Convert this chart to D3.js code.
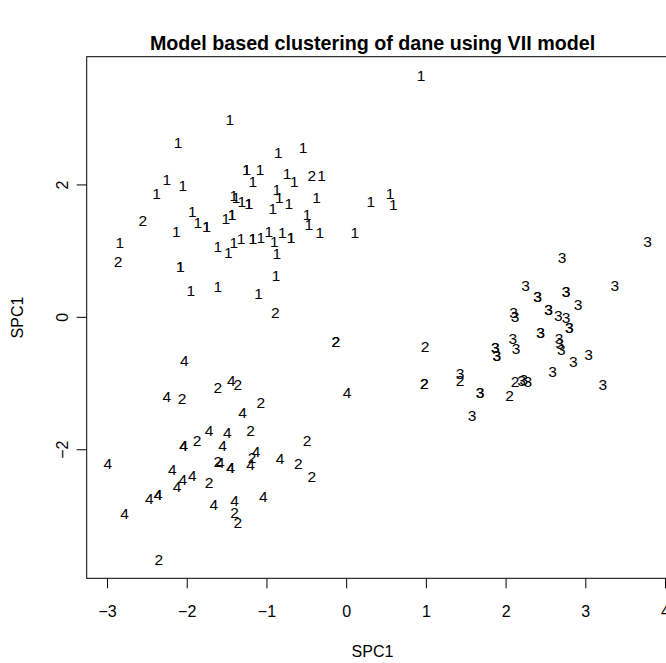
<!DOCTYPE html>
<html>
<head>
<meta charset="utf-8">
<script src="https://cdn.jsdelivr.net/npm/d3@7"></script>
<style>
  body { margin: 0; background: #fff; }
  text { font-family: "Liberation Sans", Arial, sans-serif; }
</style>
</head>
<body>
<div id="chart"></div>
<script>
// cluster 1
const c1x = [-1.46,-2.11,-0.85,-0.54,-1.25,-1.25,-1.08,-1.17,-0.74,-0.65,-0.31,-2.25,-2.38,-2.05,-1.41,-1.38,-1.31,-1.22,-1.22,-0.87,-0.84,-0.72,-0.92,-0.37,0.31,0.55,0.59,-1.93,-1.86,-1.75,-1.75,-1.51,-1.43,-1.43,-2.13,-0.49,-0.47,-0.33,0.11,-1.61,-1.48,-1.41,-1.32,-1.17,-1.17,-1.07,-0.97,-0.90,-0.80,-0.69,-0.69,-0.87,-2.84,-2.08,-2.08,-0.88,-1.95,-1.61,-1.10,0.94];
const c1y = [2.98,2.64,2.49,2.56,2.23,2.23,2.22,2.04,2.16,2.05,2.13,2.07,1.86,1.99,1.84,1.81,1.75,1.71,1.71,1.93,1.80,1.71,1.64,1.81,1.74,1.86,1.70,1.59,1.42,1.37,1.37,1.48,1.55,1.55,1.29,1.54,1.39,1.28,1.28,1.07,0.97,1.13,1.18,1.18,1.18,1.20,1.29,1.14,1.27,1.20,1.20,0.95,1.13,0.76,0.76,0.62,0.40,0.46,0.35,3.64];

// cluster 2
const c2x = [-0.43,-2.55,-2.86,-0.89,-0.13,-0.13,0.99,0.98,0.98,1.43,2.12,2.05,-1.36,-1.61,-2.06,-1.07,-1.20,-0.49,-1.87,-1.61,-1.18,-0.60,-0.43,-1.72,-1.40,-1.36,-2.35];
const c2y = [2.13,1.45,0.84,0.06,-0.38,-0.38,-0.45,-1.01,-1.01,-0.96,-0.98,-1.19,-1.02,-1.07,-1.23,-1.29,-1.71,-1.87,-1.87,-2.18,-2.12,-2.22,-2.41,-2.51,-2.96,-3.11,-3.66];

// cluster 3
const c3x = [3.78,2.71,2.25,2.40,2.40,2.76,2.76,2.91,3.37,2.10,2.12,2.54,2.54,2.66,2.76,2.80,2.80,2.44,2.44,2.09,2.13,1.87,1.87,1.89,1.89,2.67,2.68,2.70,2.85,3.04,2.59,3.22,1.43,1.68,1.68,1.58,2.20,2.23,2.28];
const c3y = [1.14,0.90,0.48,0.30,0.30,0.39,0.39,0.19,0.47,0.06,0.01,0.11,0.11,0.02,-0.01,-0.16,-0.16,-0.24,-0.24,-0.33,-0.48,-0.47,-0.47,-0.58,-0.58,-0.33,-0.40,-0.49,-0.68,-0.57,-0.83,-1.02,-0.86,-1.14,-1.14,-1.49,-0.96,-0.94,-0.97];

// cluster 4
const c4x = [-2.03,-1.44,-2.25,0.01,-1.30,-1.72,-1.49,-2.04,-2.04,-1.55,-2.99,-1.58,-1.45,-1.45,-1.13,-1.20,-0.83,-2.18,-2.05,-1.93,-2.12,-2.47,-2.36,-2.36,-2.78,-1.66,-1.40,-1.04];
const c4y = [-0.66,-0.96,-1.21,-1.14,-1.45,-1.71,-1.74,-1.95,-1.95,-1.94,-2.22,-2.20,-2.27,-2.27,-2.04,-2.23,-2.14,-2.31,-2.46,-2.39,-2.57,-2.74,-2.69,-2.69,-2.97,-2.83,-2.78,-2.71];

const xTicks = [-3, -2, -1, 0, 1, 2, 3, 4];
const yTicks = [-2, 0, 2];
const title = "Model based clustering of dane using VII model";
const xLabel = "SPC1";
const yLabel = "SPC1";

const width = 666, height = 663;
const m = { left: 86.7, right: 669, top: 56.7, bottom: 578.3 };
const midX = 372.5; // title / x label centre as seen in the picture

const points = [];
[[c1x, c1y, "1"], [c2x, c2y, "2"], [c3x, c3y, "3"], [c4x, c4y, "4"]].forEach(([xs, ys, lab]) => {
    xs.forEach((v, i) => points.push({ x: v, y: ys[i], label: lab }));
});

const svg = d3.select("#chart").append("svg")
    .attr("width", width)
    .attr("height", height);

const x = d3.scaleLinear().domain([-3.255, 4.05]).range([m.left, m.right]);
const y = d3.scaleLinear().domain([-3.95, 3.93]).range([m.bottom, m.top]);

// plot box
svg.append("rect")
    .attr("x", m.left)
    .attr("y", m.top)
    .attr("width", m.right - m.left)
    .attr("height", m.bottom - m.top)
    .attr("fill", "none")
    .attr("stroke", "#000")
    .attr("stroke-width", 1);

const fmt = d => d3.format("d")(d).replace("-", "\u2212");

// axes
const xAxis = svg.append("g")
    .attr("transform", `translate(0,${m.bottom})`)
    .call(d3.axisBottom(x).tickValues(xTicks).tickSize(10).tickPadding(17).tickFormat(fmt));
const yAxis = svg.append("g")
    .attr("transform", `translate(${m.left},0)`)
    .call(d3.axisLeft(y).tickValues(yTicks).tickSize(10).tickPadding(0).tickFormat(fmt));

[xAxis, yAxis].forEach(g => {
    g.select(".domain").remove();
    g.selectAll("line").attr("stroke", "#000");
    g.selectAll("text").attr("font-size", 16).attr("fill", "#000");
});

// rotate y tick labels like R
yAxis.selectAll(".tick text")
    .attr("x", null).attr("dy", null)
    .attr("text-anchor", "middle")
    .attr("transform", "translate(-24,0) rotate(-90)")
    .attr("dominant-baseline", "central");

// text points
svg.append("g").selectAll("text")
    .data(points)
    .join("text")
    .attr("x", d => x(d.x))
    .attr("y", d => y(d.y))
    .attr("text-anchor", "middle")
    .attr("dominant-baseline", "central")
    .attr("font-size", 15.5)
    .attr("fill", "#000")
    .text(d => d.label);

// title and axis labels
svg.append("text")
    .attr("x", midX)
    .attr("y", 43)
    .attr("text-anchor", "middle")
    .attr("dominant-baseline", "central")
    .attr("font-size", 19.7)
    .attr("font-weight", "bold")
    .text(title);

svg.append("text")
    .attr("x", midX)
    .attr("y", 651)
    .attr("text-anchor", "middle")
    .attr("dominant-baseline", "central")
    .attr("font-size", 16)
    .text(xLabel);

svg.append("text")
    .attr("transform", `translate(17,${(m.top + m.bottom) / 2}) rotate(-90)`)
    .attr("text-anchor", "middle")
    .attr("dominant-baseline", "central")
    .attr("font-size", 16)
    .text(yLabel);
</script>
</body>
</html>
